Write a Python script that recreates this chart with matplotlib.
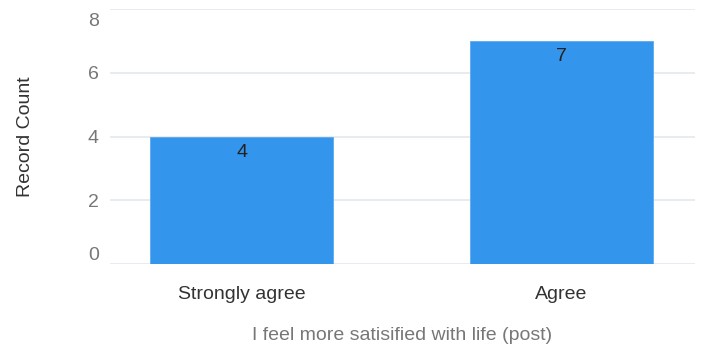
import matplotlib.pyplot as plt
import matplotlib.transforms as mtransforms
import numpy as np

plt.rcParams['font.family'] = ['Liberation Sans', 'DejaVu Sans']

# Survey responses
categories = ["Strongly agree", "Agree"]
counts = [4, 7]
y_ticks = [0, 2, 4, 6, 8]

fig = plt.figure(figsize=(7.04, 3.52), dpi=100)
ax = fig.add_axes([0.1563, 0.25, 0.8309, 0.7244])

x = np.arange(len(categories))
ax.bar(x, counts, width=0.572, color="#3395eb", edgecolor="#5aaaf0", linewidth=0.6, zorder=3)

# value labels sit just inside the top of each bar
for xi, c in zip(x, counts):
    off = mtransforms.offset_copy(ax.transData, fig=fig, x=0, y=-16, units="dots")
    ax.text(xi, c, str(c), ha="center", va="center", fontsize=14, color="#222222",
            transform=off, zorder=4)

ax.set_xlim(-0.411, 1.417)
ax.set_ylim(0, 8)
ax.set_yticks(y_ticks)
ax.set_xticks(x)
ax.set_xticklabels(categories, fontsize=14, color="#333333")
ax.tick_params(axis="x", length=0, pad=16)
ax.tick_params(axis="y", length=0, pad=8, labelsize=14, labelcolor="#777777")
ax.grid(axis="y", color="#e3e9f0", linewidth=1.2, zorder=0)
for s in ax.spines.values():
    s.set_visible(False)

# keep the end labels inside the plot area
fig.canvas.draw()
for lbl in ax.get_yticklabels():
    if lbl.get_text() == "8":
        lbl.set_transform(lbl.get_transform() + mtransforms.ScaledTranslation(0, -10 / 100, fig.dpi_scale_trans))
    elif lbl.get_text() == "0":
        lbl.set_transform(lbl.get_transform() + mtransforms.ScaledTranslation(0, 11 / 100, fig.dpi_scale_trans))

fig.text(25 / 704, 1 - 137 / 352, "Record Count", rotation=90, ha="center", va="center",
         fontsize=14, color="#333333")
fig.text(402 / 704, 1 - 335 / 352, "I feel more satisified with life (post)", ha="center",
         va="center", fontsize=14, color="#777777")

plt.savefig("out.png", dpi=100)
